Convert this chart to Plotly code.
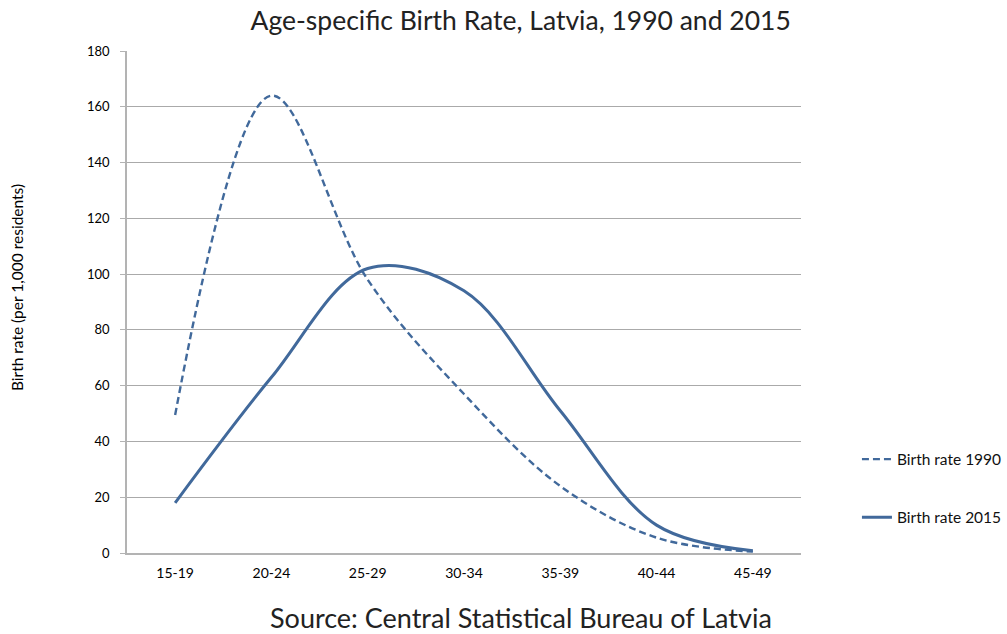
import plotly.graph_objects as go

age_groups = ["15-19", "20-24", "25-29", "30-34", "35-39", "40-44", "45-49"]
rate_1990 = [49.5, 164, 98, 57, 24, 5.5, 0.5]
rate_2015 = [18, 63, 102, 94, 51, 10, 0.8]
y_ticks = [0, 20, 40, 60, 80, 100, 120, 140, 160, 180]

line_color = "#41699b"
font_family = "Lato, 'Open Sans', sans-serif"

fig = go.Figure()
fig.add_trace(go.Scatter(
    x=age_groups, y=rate_1990, mode="lines", name="Birth rate 1990",
    line=dict(color=line_color, width=2.4, dash="7px,4px", shape="spline", smoothing=1.0),
    legendgroup="a",
))
fig.add_trace(go.Scatter(
    x=age_groups, y=rate_2015, mode="lines", name="Birth rate 2015",
    line=dict(color=line_color, width=3, shape="spline", smoothing=1.0),
    legendgroup="b",
))

fig.update_layout(
    width=1007, height=634,
    margin=dict(l=127, r=206, t=51, b=81, autoexpand=False),
    paper_bgcolor="white", plot_bgcolor="white",
    font=dict(family=font_family, color="#000000"),
    title=dict(text="Age-specific Birth Rate, Latvia, 1990 and 2015",
               x=0.517, xanchor="center", y=0.968, yanchor="middle",
               font=dict(size=26.5, color="#222222")),
    showlegend=True,
    legend=dict(x=1.083, xanchor="left", y=0.22, yanchor="top",
                font=dict(size=15.5, color="#111111"), tracegroupgap=35,
                bgcolor="rgba(0,0,0,0)"),
    annotations=[
        dict(text="Source: Central Statistical Bureau of Latvia",
             xref="paper", yref="paper", x=0.585, y=-0.128,
             xanchor="center", yanchor="middle", showarrow=False,
             font=dict(size=27, color="#222222")),
        dict(text="Birth rate (per 1,000 residents)", textangle=-90,
             xref="paper", yref="paper", x=-0.163, y=0.528,
             xanchor="center", yanchor="middle", showarrow=False,
             font=dict(size=15.5, color="#000000")),
    ],
)
fig.update_xaxes(
    type="category", range=[-0.5, 6.5], showgrid=False,
    showline=True, linecolor="#b3b3b3", linewidth=1.5,
    ticks="", tickfont=dict(size=14), ticklabelstandoff=6,
)
fig.update_yaxes(
    range=[0, 180], tickvals=y_ticks, showgrid=True, gridcolor="#aaaaaa", gridwidth=1,
    showline=True, linecolor="#b3b3b3", linewidth=1.5, zeroline=False,
    ticks="outside", ticklen=5, tickcolor="#b3b3b3", tickfont=dict(size=13),
    ticklabelstandoff=8, automargin=False,
)

fig.write_html("out.html", config={"displayModeBar": False},
               post_script="document.body.style.margin='0';document.body.style.padding='0';")
